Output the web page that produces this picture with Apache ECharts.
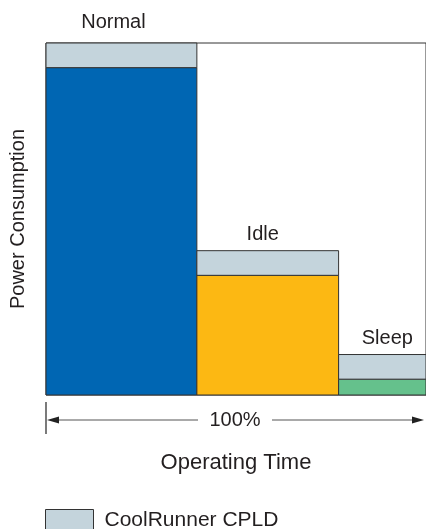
<!DOCTYPE html>
<html><head><meta charset="utf-8">
<script src="https://cdn.jsdelivr.net/npm/echarts@6/dist/echarts.min.js"></script>
<style>html,body{margin:0;padding:0;background:#fff;overflow:hidden}#c{width:426px;height:529px}</style>
</head><body><div id="c"></div>
<script>
// ---- data ----
const states = ['Normal', 'Idle', 'Sleep'];
const timeShare = [39.7, 37.3, 23];      // % of operating time per state
const basePower = [93, 34, 4.5];         // power of the rest of the system
const cpldPower = [7, 7, 7];             // CoolRunner CPLD contribution
const spanLabel = '100%';
const cpldName = 'CoolRunner CPLD';

// ---- style ----
const stateColors = ['#0066b3', '#fcb813', '#65c18c'];
const cpldColor = '#c4d4dc';
const edge = '#333';
const txt = '#231f20';
const labelNudge = [[-8, -5], [-5, 0], [5, 0]]; // fine label placement

let acc = 0;
const rows = states.map((s, i) => {
  const start = acc; acc += timeShare[i];
  return [start, acc, basePower[i], cpldPower[i], i];
});

function renderBase(params, api) {
  const x0 = api.value(0), x1 = api.value(1), b = api.value(2);
  const p0 = api.coord([x0, 0]), p1 = api.coord([x1, b]);
  return { type: 'rect',
    shape: { x: p0[0], y: p1[1], width: p1[0] - p0[0], height: p0[1] - p1[1] },
    style: { fill: stateColors[params.dataIndex], stroke: edge, lineWidth: 1 } };
}
function renderCpld(params, api) {
  const x0 = api.value(0), x1 = api.value(1), b = api.value(2), c = api.value(3);
  const p0 = api.coord([x0, b]), p1 = api.coord([x1, b + c]);
  const i = params.dataIndex;
  return { type: 'group', children: [
    { type: 'rect',
      shape: { x: p0[0], y: p1[1], width: p1[0] - p0[0], height: p0[1] - p1[1] },
      style: { fill: cpldColor, stroke: edge, lineWidth: 1 } },
    { type: 'text',
      style: { text: states[i], x: (p0[0] + Math.min(p1[0], 426)) / 2 + labelNudge[i][0],
        y: p1[1] - 6 + labelNudge[i][1], align: 'center', verticalAlign: 'bottom',
        fontSize: 20, fill: txt, fontFamily: 'Liberation Sans' } }
  ]};
}
function renderSpan(params, api) {
  const a = api.coord([api.value(0), 0]), b = api.coord([api.value(1), 0]);
  const y = a[1] + 25, xl = a[0], xr = Math.min(b[0], 426) - 2, xm = (xl + xr) / 2;
  const line = { stroke: '#555', lineWidth: 1 };
  return { type: 'group', children: [
    { type: 'line', shape: { x1: xl, y1: a[1] + 7, x2: xl, y2: a[1] + 39 }, style: { stroke: '#222', lineWidth: 1.2 } },
    { type: 'line', shape: { x1: xl + 8, y1: y, x2: xm - 37, y2: y }, style: line },
    { type: 'line', shape: { x1: xm + 37, y1: y, x2: xr - 8, y2: y }, style: line },
    { type: 'polygon', shape: { points: [[xl + 1, y], [xl + 13, y - 3.5], [xl + 13, y + 3.5]] }, style: { fill: '#222' } },
    { type: 'polygon', shape: { points: [[xr, y], [xr - 12, y - 3.5], [xr - 12, y + 3.5]] }, style: { fill: '#222' } },
    { type: 'text', style: { text: spanLabel, x: xm, y: y, align: 'center', verticalAlign: 'middle',
      fontSize: 20, fill: txt, fontFamily: 'Liberation Sans' } }
  ]};
}

const chart = echarts.init(document.getElementById('c'), null, { renderer: 'canvas' });
chart.setOption({
  animation: false,
  textStyle: { fontFamily: 'Liberation Sans', color: txt },
  grid: { left: 46, top: 43, width: 383, height: 352, show: true, borderColor: edge, borderWidth: 1, backgroundColor: 'transparent' },
  xAxis: { type: 'value', min: 0, max: 100, axisLine: { show: false }, axisTick: { show: false },
    axisLabel: { show: false }, splitLine: { show: false },
    name: 'Operating Time', nameLocation: 'middle', nameGap: 57,
    nameTextStyle: { fontSize: 22, color: txt } },
  yAxis: { type: 'value', min: 0, max: 100, axisLine: { show: false }, axisTick: { show: false },
    axisLabel: { show: false }, splitLine: { show: false },
    name: 'Power Consumption', nameLocation: 'middle', nameGap: 18,
    nameTextStyle: { fontSize: 20, color: txt } },
  legend: { left: 45, top: 509, padding: 0, icon: 'rect', itemWidth: 48, itemHeight: 22,
    selectedMode: false,
    data: [{ name: cpldName, itemStyle: { color: cpldColor, borderColor: edge, borderWidth: 1 } }],
    textStyle: { fontSize: 21, color: txt, padding: [0, 0, 0, 6] } },
  series: [
    { type: 'custom', name: 'states', renderItem: renderBase, data: rows, silent: true },
    { type: 'custom', name: cpldName, renderItem: renderCpld, data: rows, silent: true,
      itemStyle: { color: cpldColor } },
    { type: 'custom', name: 'span', renderItem: renderSpan, data: [[0, 100]], silent: true }
  ]
});
</script></body></html>
